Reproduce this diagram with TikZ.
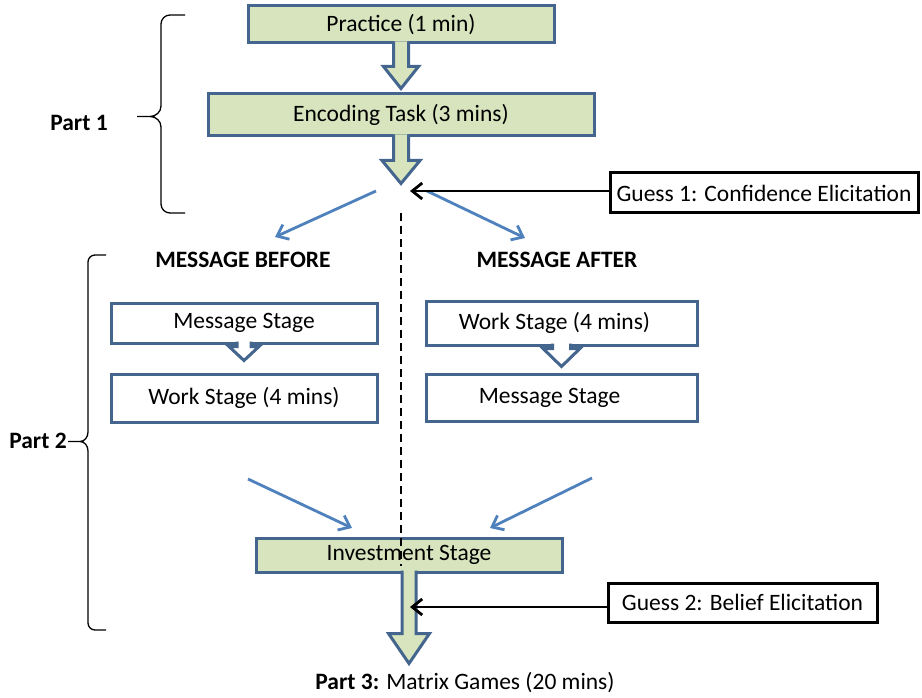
\documentclass[tikz,border=0pt]{standalone}
\usepackage{fontspec}
\setmainfont{Carlito}
\usepackage{tikz}
\usetikzlibrary{positioning, arrows.meta}

\definecolor{boxgreen}{RGB}{215,228,189}
\definecolor{boxline}{RGB}{68,102,142}
\definecolor{flowblue}{RGB}{79,129,189}

% #1 style, #2 anchor, #3 shaft half width, #4 shaft length, #5 head half width, #6 head length
\newcommand{\blockarrow}[6]{%
  \draw[#1] ([xshift=-#3pt,yshift=3pt]#2) -- ++(0,{#4+3}) -- ++({#3-#5},0) -- ++(#5,#6)
    -- ++(#5,-#6) -- ++({#3-#5},0) -- ++(0,{-#4-3});}

\begin{document}
\begin{tikzpicture}[x=1pt, y=-1pt, >={Straight Barb[length=10pt,width=16pt]}, font=\fontsize{23.5}{28}\selectfont]
\tikzset{
  stage/.style = {rectangle, draw=boxline, line width=3pt, fill=boxgreen, inner sep=0pt},
  substage/.style = {rectangle, draw=boxline, line width=3pt, fill=white, inner sep=0pt},
  guess/.style = {rectangle, draw, line width=3pt, fill=white, inner sep=0pt, minimum height=40pt},
  heading/.style = {font=\fontsize{23.5}{28}\selectfont\bfseries},
  fatarrow/.style = {draw=boxline, line width=3pt, fill=boxgreen},
  thinarrow/.style = {draw=boxline, line width=3pt, fill=white},
  split/.style = {draw=flowblue, line width=2.8pt, ->},
  feed/.style = {draw, line width=2.8pt, ->},
  partbrace/.style = {draw, line width=1.3pt},
  divider/.style = {draw, line width=1.5pt, dash pattern=on 8pt off 5pt}
}
\useasboundingbox (0,0) rectangle (922,698);

\node [stage, minimum width=306pt, minimum height=37pt] (practice) at (401,24.5) {Practice (1 min)};
\node [stage, minimum width=386pt, minimum height=42pt, below of=practice, node distance=90.5pt] (encoding) {Encoding Task (3 mins)};
\node [guess, minimum width=308pt] (guess1) at (764,193) {Guess 1: Confidence Elicitation};
\node [heading] (before) at (243,260) {MESSAGE BEFORE};
\node [heading, right of=before, node distance=314pt] (after) {MESSAGE AFTER};
\node [substage, minimum width=266pt, minimum height=40pt] (msgL) at (244,323) {Message Stage};
\node [substage, minimum width=266pt, minimum height=48pt, below of=msgL, node distance=75pt] (workL) {Work Stage (4 mins)};
\node [substage, minimum width=271pt, minimum height=44pt, right of=msgL, node distance=317.5pt] (workR) {Work Stage (4 mins)\hspace*{14pt}};
\node [substage, minimum width=271pt, minimum height=47pt, below of=workR, node distance=75pt] (msgR) {Message Stage\hspace*{24pt}};
\node [stage, minimum width=306pt, minimum height=34pt] (invest) at (409,555) {Investment Stage};
\node [guess, minimum width=269pt, minimum height=39pt] (guess2) at (742.5,602.5) {Guess 2: Belief Elicitation};
\node (part3) at (465,683) {{\bfseries Part 3:} Matrix Games (20 mins)};
\node [heading] (label1) at (79,123) {Part 1};
\node [heading] (label2) at (38,441) {Part 2};

\coordinate (forkL) at (376,191);
\coordinate (forkR) at (427,191);
\coordinate (toBefore) at (275,237);
\coordinate (toAfter) at (525,238);
\coordinate (fromBefore) at (248,479);
\coordinate (fromAfter) at (592,478);
\coordinate (intoLeft) at (352,528);
\coordinate (intoRight) at (490,528);
\coordinate (tip1) at (410,191);
\coordinate (tip2) at (410,607);
\coordinate (divtop) at (401,213);
\coordinate (divbot) at (401,566);

\blockarrow{fatarrow}{practice.south}{7.5}{22}{17.5}{22}
\blockarrow{fatarrow}{encoding.south}{7.5}{23}{19}{23}
\blockarrow{thinarrow}{msgL.south}{7}{2}{15}{14}
\blockarrow{thinarrow}{workR.south}{9}{2}{18.5}{18}
\blockarrow{fatarrow}{invest.south}{7}{60}{20.5}{30}

\path [divider] (divtop) -- (divbot);
\path [split] (forkL) -- (toBefore);
\path [split] (forkR) -- (toAfter);
\path [split] (fromBefore) -- (intoLeft);
\path [split] (fromAfter) -- (intoRight);
\path [feed] (guess1.west |- tip1) -- (tip1);
\path [feed] (guess2.west |- tip2) -- (tip2);

\path [partbrace] (185,15) -- (170,15) to[out=180,in=90] (161,24) -- (161,106)
  to[out=-90,in=0] (150,116.5) -- (137,116.5) -- (150,116.5) to[out=0,in=90] (161,127)
  -- (161,204) to[out=-90,in=180] (170,213) -- (185,213);
\path [partbrace] (106,255) -- (95,255) to[out=180,in=90] (88,262) -- (88,432)
  to[out=-90,in=0] (80,441.5) -- (68,441.5) -- (80,441.5) to[out=0,in=90] (88,451)
  -- (88,623) to[out=-90,in=180] (95,630) -- (106,630);
\end{tikzpicture}
\end{document}
